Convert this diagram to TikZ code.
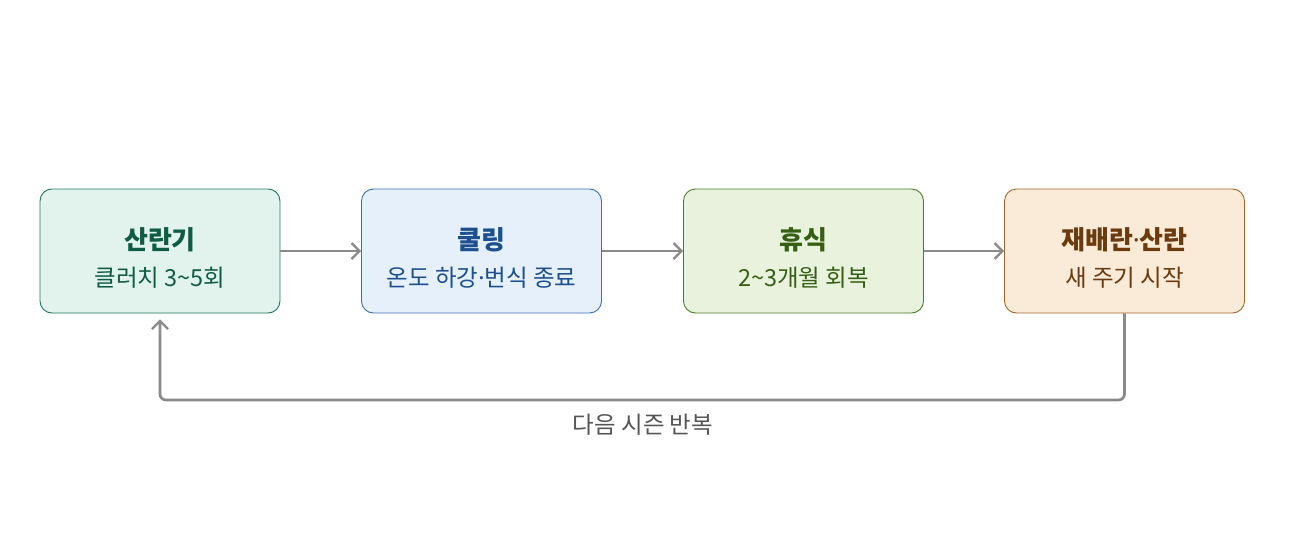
\documentclass[tikz,border=0pt]{standalone}
\usepackage{fontspec}
\setmainfont{Noto Sans CJK KR}
\newfontfamily\latinfont{Noto Sans}
\newcommand{\mdot}{{\latinfont ·}}
\usetikzlibrary{arrows.meta}
\definecolor{grnfill}{HTML}{E1F3EC}
\definecolor{grndraw}{HTML}{1F7A5C}
\definecolor{grntext}{HTML}{0F5C46}
\definecolor{blufill}{HTML}{E6F0FA}
\definecolor{bludraw}{HTML}{3B6FB6}
\definecolor{blutext}{HTML}{1B4F8E}
\definecolor{lgrfill}{HTML}{E8F2DD}
\definecolor{lgrdraw}{HTML}{4D7C2A}
\definecolor{lgrtext}{HTML}{365F14}
\definecolor{orgfill}{HTML}{FAEBD8}
\definecolor{orgdraw}{HTML}{A2662C}
\definecolor{orgtext}{HTML}{6B3A0E}
\definecolor{arrgray}{HTML}{8A8A8A}
\definecolor{lblgray}{HTML}{555555}
\begin{document}
\begin{tikzpicture}[x=1pt, y=-1pt,
    stagebox/.style={draw, rounded corners=12pt, minimum width=240pt,
        minimum height=124pt, line width=0.9pt},
    stagetitle/.style={font=\fontsize{26}{30}\selectfont\bfseries},
    stagesub/.style={font=\fontsize{23.5}{28}\selectfont},
    flow/.style={draw=arrgray, line width=2.7pt, -{Straight Barb[length=8pt, width=16pt, line width=2.2pt]}}]
    \useasboundingbox (0,0) rectangle (1300,536);
    % stage boxes
    \node[stagebox, fill=grnfill, draw=grndraw] (laying) at (160,251) {};
    \node[stagebox, fill=blufill, draw=bludraw] (cooling) at (481.5,251) {};
    \node[stagebox, fill=lgrfill, draw=lgrdraw] (resting) at (803.5,251) {};
    \node[stagebox, fill=orgfill, draw=orgdraw] (repair) at (1124.5,251) {};
    % texts
    \node[stagetitle, text=grntext] (layingT) at (160,240) {산란기};
    \node[stagesub, text=grntext] (layingS) at (160,278) {클러치 3\textasciitilde5회};
    \node[stagetitle, text=blutext] (coolingT) at (481.5,240) {쿨링};
    \node[stagesub, text=blutext] (coolingS) at (481.5,278) {온도 하강\mdot 번식 종료};
    \node[stagetitle, text=lgrtext] (restingT) at (803.5,240) {휴식};
    \node[stagesub, text=lgrtext] (restingS) at (803.5,278) {2\textasciitilde3개월 회복};
    \node[stagetitle, text=orgtext] (repairT) at (1124.5,240) {재배란\mdot 산란};
    \node[stagesub, text=orgtext] (repairS) at (1124.5,278) {새 주기 시작};
    % arrows
    \draw[flow] (laying) -- (cooling);
    \draw[flow] (cooling) -- (resting);
    \draw[flow] (resting) -- (repair);
    \coordinate (loopR) at (1124.5,400);
    \coordinate (loopL) at (160,400);
    \draw[flow, rounded corners=6pt] (repair.south) -- (loopR) -- (loopL)
        -- ([yshift=-6pt]laying.south);
    \node[stagesub, text=lblgray] (again) at (643,425) {다음 시즌 반복};
\end{tikzpicture}
\end{document}
